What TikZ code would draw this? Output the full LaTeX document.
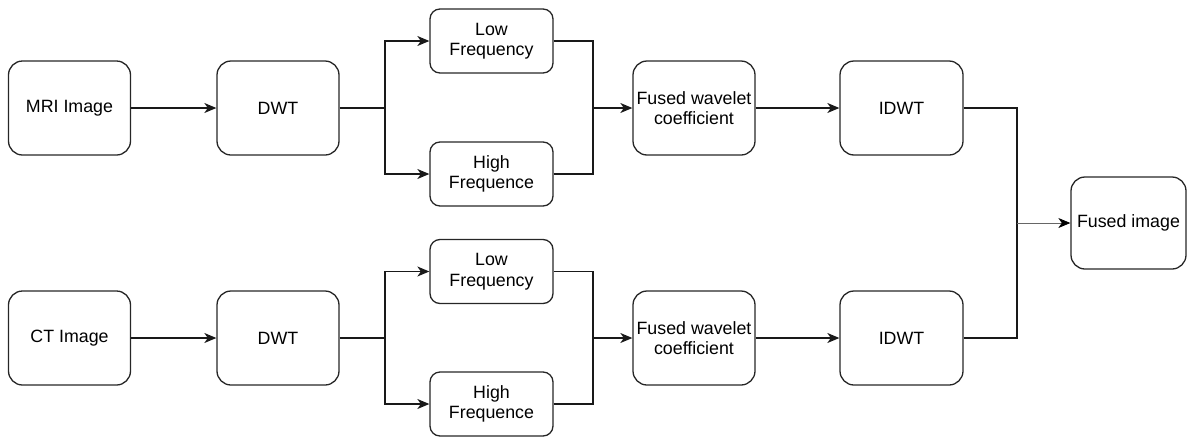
\documentclass[tikz,border=0pt]{standalone}
\usepackage{fontspec}
\setmainfont{Liberation Sans}
\usetikzlibrary{arrows.meta}
\begin{document}
\begin{tikzpicture}[x=1pt,y=-1pt,
  box/.style={draw=black!85,line width=1.3pt,rounded corners=14pt,align=center,
    font=\fontsize{17.8}{20.5}\selectfont,inner sep=0pt,minimum width=122pt,minimum height=94pt},
  small/.style={box,rounded corners=10pt,minimum width=123pt,minimum height=64pt},
  ln/.style={line width=1.3pt,draw=black!90},
  arr/.style={ln,-{Stealth[length=12pt,width=10pt,inset=3.5pt]}},
  thinarr/.style={line width=0.8pt,draw=black!60,-{Stealth[length=12pt,width=10pt,inset=3.5pt,color=black]}}]
\useasboundingbox (0,0) rectangle (1187,437);
% top row
\node[box] (mri) at (69.5,108) {MRI Image};
\node[box] (dwt1) at (278,108) {DWT};
\node[small] (low1) at (491.5,41) {Low\\Frequency};
\node[small] (high1) at (491.5,174) {High\\Frequence};
\node[box] (fus1) at (694,108) {Fused wavelet\\coefficient};
\node[box,minimum width=123pt] (idwt1) at (901.5,108) {IDWT};
% bottom row
\node[box] (ct) at (69.5,338) {CT Image};
\node[box] (dwt2) at (278,338) {DWT};
\node[small] (low2) at (491.5,271.5) {Low\\Frequency};
\node[small] (high2) at (491.5,404) {High\\Frequence};
\node[box] (fus2) at (694,338) {Fused wavelet\\coefficient};
\node[box,minimum width=123pt] (idwt2) at (901.5,338) {IDWT};
% output
\node[box,minimum width=115pt,minimum height=92pt] (out) at (1128.5,223) {Fused image};
% junctions
\coordinate (s1) at (385,108);
\coordinate (m1) at (593,108);
\coordinate (s2) at (385,338);
\coordinate (m2) at (593,338);
\coordinate (j) at (1017,223);
% connectors top
\draw[arr] (mri) -- (dwt1);
\draw[ln] (dwt1.east) -- (s1);
\draw[arr] (s1) |- (low1.west);
\draw[arr] (s1) |- (high1.west);
\draw[ln] (low1.east) -| (m1);
\draw[ln] (high1.east) -| (m1);
\draw[arr] (m1) -- (fus1.west);
\draw[arr] (fus1) -- (idwt1);
\draw[ln] (idwt1.east) -| (j);
% connectors bottom
\draw[arr] (ct) -- (dwt2);
\draw[ln] (dwt2.east) -- (s2);
\draw[arr] (s2) |- (low2.west);
\draw[arr] (s2) |- (high2.west);
\draw[ln] (low2.east) -| (m2);
\draw[ln] (high2.east) -| (m2);
\draw[arr] (m2) -- (fus2.west);
\draw[arr] (fus2) -- (idwt2);
\draw[ln] (idwt2.east) -| (j);
\draw[thinarr] (j) -- (out.west);
\end{tikzpicture}
\end{document}
